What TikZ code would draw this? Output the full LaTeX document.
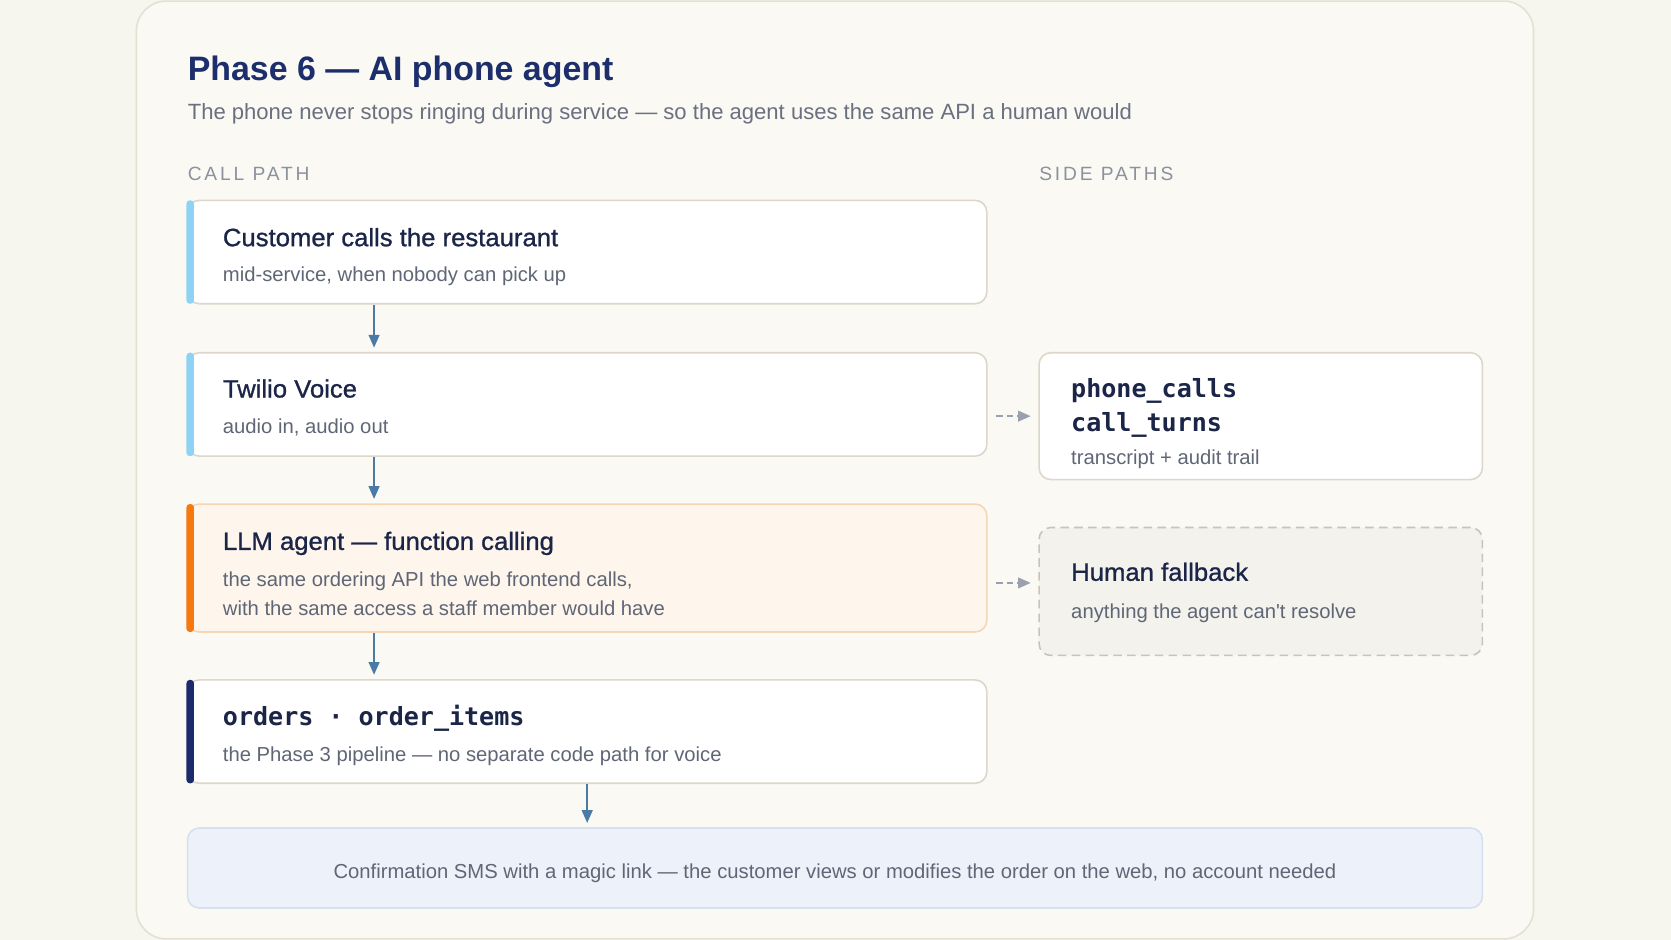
\documentclass[tikz,border=0pt]{standalone}
\usepackage{fontspec}
\setmainfont{Liberation Sans}[Ligatures=TeXOff]
\setmonofont{DejaVu Sans Mono}
\newfontfamily\medfont[FakeBold=1,FakeStretch=1.025]{Liberation Sans}
\newfontfamily\trackfont[LetterSpace=15]{Liberation Sans}
\usetikzlibrary{arrows.meta,calc}
\definecolor{pagebg}{HTML}{F6F5EE}
\definecolor{cardbg}{HTML}{FAF9F4}
\definecolor{cardline}{HTML}{E4E0D4}
\definecolor{boxline}{HTML}{DCD7CA}
\definecolor{titlecol}{HTML}{1C2E6B}
\definecolor{subcol}{HTML}{6B7080}
\definecolor{seccol}{HTML}{8C919E}
\definecolor{headcol}{HTML}{1A2548}
\definecolor{bodycol}{HTML}{5F6675}
\definecolor{flowcol}{HTML}{4A7BA6}
\definecolor{dashcol}{HTML}{9AA0AE}
\definecolor{accblue}{HTML}{8FD3F4}
\definecolor{accorange}{HTML}{F5790F}
\definecolor{accnavy}{HTML}{1B2A6B}
\definecolor{llmfill}{HTML}{FEF5EC}
\definecolor{llmline}{HTML}{F5D7B8}
\definecolor{smsfill}{HTML}{EDF2FA}
\definecolor{smsline}{HTML}{D6E0EE}
\definecolor{fbfill}{HTML}{F3F2EC}
\definecolor{fbline}{HTML}{C9C4B6}
\tikzset{
  stepbox/.style={draw=boxline, line width=1.5pt, fill=white, rounded corners=11pt,
    minimum width=750pt, minimum height=97pt, inner sep=0pt},
  sidebox/.style={draw=boxline, line width=1.5pt, fill=white, rounded corners=11pt,
    minimum width=416pt, minimum height=119pt, inner sep=0pt},
  head/.style={anchor=base west, inner sep=0pt, text=headcol, font=\medfont\fontsize{23.5}{28}\selectfont},
  monohead/.style={anchor=base west, inner sep=0pt, text=headcol, font=\ttfamily\bfseries\fontsize{23.5}{28}\selectfont},
  body/.style={anchor=base west, inner sep=0pt, text=bodycol, font=\fontsize{19}{23}\selectfont},
  section/.style={anchor=base west, inner sep=0pt, text=seccol, font=\trackfont\fontsize{18}{22}\selectfont},
  flow/.style={draw=flowcol, line width=2pt, -{Triangle[length=12pt,width=10pt]}, shorten >=4pt},
  sideflow/.style={draw=dashcol, line width=2pt, dash pattern=on 6pt off 4pt, -{Triangle[length=12pt,width=10pt]}},
}
\begin{document}
\begin{tikzpicture}[x=1pt,y=-1pt]
\useasboundingbox (0,0) rectangle (1568,882);
\fill[pagebg] (0,0) rectangle (1568,882);
\draw[cardline, line width=1.5pt, fill=cardbg, rounded corners=28pt] (128,1) rectangle (1439,881);

% title
\node[anchor=base west, inner sep=0pt, text=titlecol, font=\bfseries\fontsize{31.8}{37}\selectfont] (title) at (176,76) {Phase 6 — AI phone agent};
\node[anchor=base west, inner sep=0pt, text=subcol, font=\fontsize{20.7}{25}\selectfont] (subtitle) at (176,112) {The phone never stops ringing during service — so the agent uses the same API a human would};
\node[section] (callpath) at (176,169) {CALL PATH};
\node[section] (sidepaths) at (975,169) {SIDE PATHS};

% step boxes
\node[stepbox] (b1) at (551,236.5) {};
\fill[accblue, rounded corners=3pt] (175,188) rectangle (182,285);
\node[head] (b1t) at (209,231) {Customer calls the restaurant};
\node[body] (b1s) at (209,264) {mid-service, when nobody can pick up};

\node[stepbox] (b2) at (551,379.5) {};
\fill[accblue, rounded corners=3pt] (175,331) rectangle (182,428);
\node[head] (b2t) at (209,373) {Twilio Voice};
\node[body] (b2s) at (209,407) {audio in, audio out};

\node[stepbox, draw=llmline, fill=llmfill, minimum height=120pt] (b3) at (551,533) {};
\fill[accorange, rounded corners=3pt] (175,473) rectangle (182,593);
\node[head] (b3t) at (209,516) {LLM agent — function calling};
\node[body] (b3s) at (209,550) {the same ordering API the web frontend calls,};
\node[body] (b3s2) at (209,578) {with the same access a staff member would have};

\node[stepbox] (b4) at (551,686.5) {};
\fill[accnavy, rounded corners=3pt] (175,638) rectangle (182,735);
\node[monohead] (b4t) at (209,681) {orders · order\_items};
\node[body] (b4s) at (209,715) {the Phase 3 pipeline — no separate code path for voice};

% bottom box
\node[draw=smsline, line width=1.5pt, fill=smsfill, rounded corners=11pt, minimum width=1215pt, minimum height=75pt, inner sep=0pt] (sms) at (783.5,814.5) {};
\node[anchor=base, inner sep=0pt, text=bodycol, font=\fontsize{19}{23}\selectfont] (smst) at (783.5,824) {Confirmation SMS with a magic link — the customer views or modifies the order on the web, no account needed};

% side boxes
\node[sidebox] (s1) at (1183,390.5) {};
\node[monohead] (s1t) at (1005,373) {phone\_calls};
\node[monohead] (s1t2) at (1005,405) {call\_turns};
\node[body] (s1s) at (1005,436) {transcript + audit trail};

\node[sidebox, draw=fbline, fill=fbfill, dash pattern=on 8pt off 5pt, minimum height=120pt] (s2) at (1183,555) {};
\node[head] (s2t) at (1005,545) {Human fallback};
\node[body] (s2s) at (1005,580) {anything the agent can't resolve};

% connectors
\coordinate (ax) at (351,0);
\draw[flow] (b1.south -| ax) -- (b2.north -| ax);
\draw[flow] (b2.south -| ax) -- (b3.north -| ax);
\draw[flow] (b3.south -| ax) -- (b4.north -| ax);
\draw[flow] (b4.south) -- (sms.north -| b4.south);

\draw[sideflow] ([xshift=8pt]b2.east |- s1.west) -- ([xshift=-7pt]s1.west);
\coordinate (fy) at (0,547);
\draw[sideflow] ([xshift=8pt]b3.east |- fy) -- ([xshift=-7pt]s2.west |- fy);
\end{tikzpicture}
\end{document}
